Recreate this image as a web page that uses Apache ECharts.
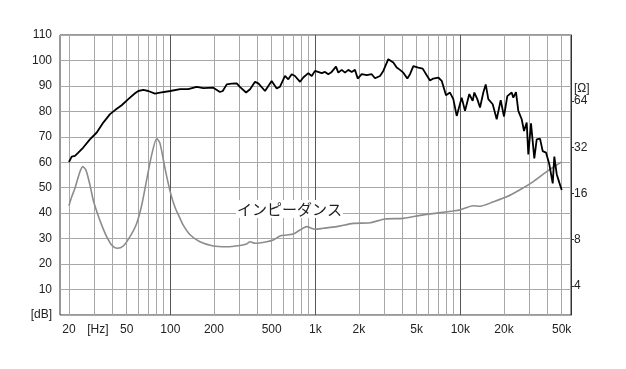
<!DOCTYPE html>
<html><head><meta charset="utf-8">
<script src="https://cdn.jsdelivr.net/npm/echarts@6/dist/echarts.min.js"></script>
<style>html,body{margin:0;padding:0;background:#fff}#c{width:626px;height:369px}</style>
</head><body><div id="c"></div>
<script>
// SPL (dB) vs frequency (Hz)
const splFreq = [20,20.9,22,23.2,25.1,27.9,31.1,34.5,38.4,41.6,46.2,51.3,57.1,60.2,65.1,70.5,78.4,84.9,100,117,133,152,169,198,220,230,245,265,287,303,333,355,384,405,450,500,542,571,618,651,687,724,785,826,895,945,995,1107,1167,1229,1297,1389,1441,1521,1603,1689,1782,1878,1961,2089,2262,2449,2581,2794,2944,3187,3451,3642,3838,4045,4311,4500,4743,5133,5504,5866,6180,6513,7053,7441,7969,8492,8949,9445,10225,10776,11536,12174,12493,13101,13677,14411,14973,15600,16730,17824,18995,20014,21093,22617,23198,24213,25119,26512,27500,28708,29443,30735,32384,33646,35449,37001,38994,41105,43383,44502,46228,48180,50050];
const splDb = [60.1,62.2,62.5,63.8,65.8,69.0,71.7,75.6,78.9,80.5,82.4,84.8,87.1,88.0,88.4,88.0,87.0,87.4,88.0,88.7,88.7,89.6,89.1,89.3,87.6,88.0,90.6,90.9,91.0,89.5,87.4,88.7,91.6,91.0,88.0,91.9,89.0,89.7,93.9,92.6,94.6,93.9,91.6,93.3,95.0,93.9,95.9,95.0,95.5,94.6,95.5,97.6,95.2,96.3,95.2,96.3,95.5,96.3,92.9,94.6,94.2,94.6,93.0,93.9,95.9,100.5,99.2,97.2,96.3,95.2,92.9,94.6,97.8,97.2,96.8,94.2,92.1,92.9,93.3,92.0,86.3,87.4,84.8,78.2,85.4,80.2,86.8,84.1,87.4,84.8,81.5,87.4,90.6,84.8,82.8,76.9,84.4,78.0,86.0,87.4,85.4,87.6,80.2,76.9,72.3,75.6,63.1,75.3,61.5,69.0,69.3,64.4,63.8,59.2,51.7,62.2,55.3,52.0,49.1];
// Impedance (ohm) vs frequency (Hz)
const impFreq = [20,20.9,22,23.6,24.9,26.2,27.9,29.4,31.1,33.6,36.4,39.4,43.1,47.4,52.7,58.6,63.5,68.7,74.4,80.6,84.9,91.9,100,107.7,116.7,123,136.8,160,198,245,303,336,355,384,462,513,571,635,705,785,873,995,1136,1405,1828,2384,3025,4045,5274,6877,8949,9952,12294,13677,16890,20893,25806,31865,39440,44995,50000];
const impOhm = [13.3,15.2,17.3,21.6,23.9,22.7,18.2,14.5,12.2,9.98,8.36,7.38,7.02,7.27,8.36,10.2,13.4,19.6,28.5,36.5,33.9,23.3,16.3,13.0,11.0,9.9,8.6,7.75,7.27,7.19,7.33,7.49,7.75,7.57,7.75,7.95,8.45,8.57,8.69,9.24,9.72,9.34,9.48,9.72,10.2,10.3,10.9,11.0,11.5,11.9,12.3,12.5,13.3,13.2,14.1,15.2,16.9,19.1,22.2,24.1,25.7];

const xGridFreqs = [20,30,40,50,60,70,80,90,200,300,400,500,600,700,800,900,2000,3000,4000,5000,6000,7000,8000,9000,20000,30000,40000,50000];
const xDecadeFreqs = [100,1000,10000];
const xTickFreqs = [20,31.62,50,100,200,500,1000,2000,5000,10000,20000,50000];
const xTickLabels = ['20','[Hz]','50','100','200','500','1k','2k','5k','10k','20k','50k'];
const ohmTicks = [4,8,16,32,64];
const ohmUnitAt = 77.5;
const ohmUnitLabel = '[\u03A9]';
const impLabel = 'インピーダンス';

const L10 = Math.log10, L2 = Math.log2;
const xMin = 1.2393, xMax = 4.7634;
const rMin = 1.368, rMax = 7.4286;
const gridCol = '#a8a8a8', darkCol = '#555', txt = '#222';
const font = "'Liberation Sans', Arial, sans-serif";

const chart = echarts.init(document.getElementById('c'), null, {renderer: 'canvas'});
const xAxisBase = {type: 'value', min: xMin, max: xMax, position: 'bottom', axisLine: {show: false}};
chart.setOption({
  animation: false,
  backgroundColor: '#fff',
  grid: {left: 60, right: 55, top: 35, bottom: 54, show: true, borderColor: '#333', borderWidth: 1, containLabel: false, outerBoundsMode: 'none'},
  xAxis: [
    Object.assign({}, xAxisBase, {
      axisTick: {show: false, customValues: xGridFreqs.map(L10)},
      splitLine: {show: true, lineStyle: {color: gridCol, width: 1}},
      axisLabel: {
        show: true, margin: 9, fontSize: 12, color: txt, fontFamily: font,
        customValues: xTickFreqs.map(L10),
        formatter: v => { for (let i = 0; i < xTickFreqs.length; i++) if (Math.abs(L10(xTickFreqs[i]) - v) < 1e-4) return xTickLabels[i]; return ''; }
      }
    }),
    Object.assign({}, xAxisBase, {
      axisTick: {show: false, customValues: xDecadeFreqs.map(L10)},
      splitLine: {show: true, lineStyle: {color: darkCol, width: 1}},
      axisLabel: {show: false}
    })
  ],
  yAxis: [
    {type: 'value', min: 0, max: 110, interval: 10, position: 'left',
     axisLine: {show: false}, axisTick: {show: false},
     splitLine: {show: true, lineStyle: {color: gridCol, width: 1}},
     axisLabel: {margin: 8, fontSize: 12, color: txt, fontFamily: font, formatter: v => v === 0 ? '[dB]' : String(v)}},
    {type: 'value', min: rMin, max: rMax, position: 'right',
     axisLine: {show: true, lineStyle: {color: '#333'}},
     axisTick: {show: true, length: 3, inside: false, customValues: ohmTicks.map(L2), lineStyle: {color: '#333'}},
     splitLine: {show: false},
     axisLabel: {margin: 3, fontSize: 12, color: txt, fontFamily: font, hideOverlap: false,
       customValues: ohmTicks.map(L2).concat([L2(ohmUnitAt)]),
       formatter: v => Math.abs(v - L2(ohmUnitAt)) < 1e-4 ? ohmUnitLabel : String(Math.round(Math.pow(2, v)))}}
  ],
  series: [
    {type: 'line', name: 'impedance', xAxisIndex: 0, yAxisIndex: 1, showSymbol: false, smooth: 0.25, z: 3,
     lineStyle: {color: '#8c8c8c', width: 1.6},
     data: impFreq.map((f, i) => [L10(f), L2(impOhm[i])])},
    {type: 'line', name: 'SPL', xAxisIndex: 0, yAxisIndex: 0, showSymbol: false, smooth: false, z: 4,
     lineStyle: {color: '#000', width: 1.8},
     data: splFreq.map((f, i) => [L10(f), splDb[i]])}
  ],
  graphic: [{
    type: 'text', left: 236, top: 200, z: 10,
    style: {text: impLabel, fontSize: 15, fontFamily: "'Noto Sans CJK JP', sans-serif", fill: '#222', backgroundColor: '#fff', padding: [2, 1, 1, 1]}
  }]
});
</script></body></html>
